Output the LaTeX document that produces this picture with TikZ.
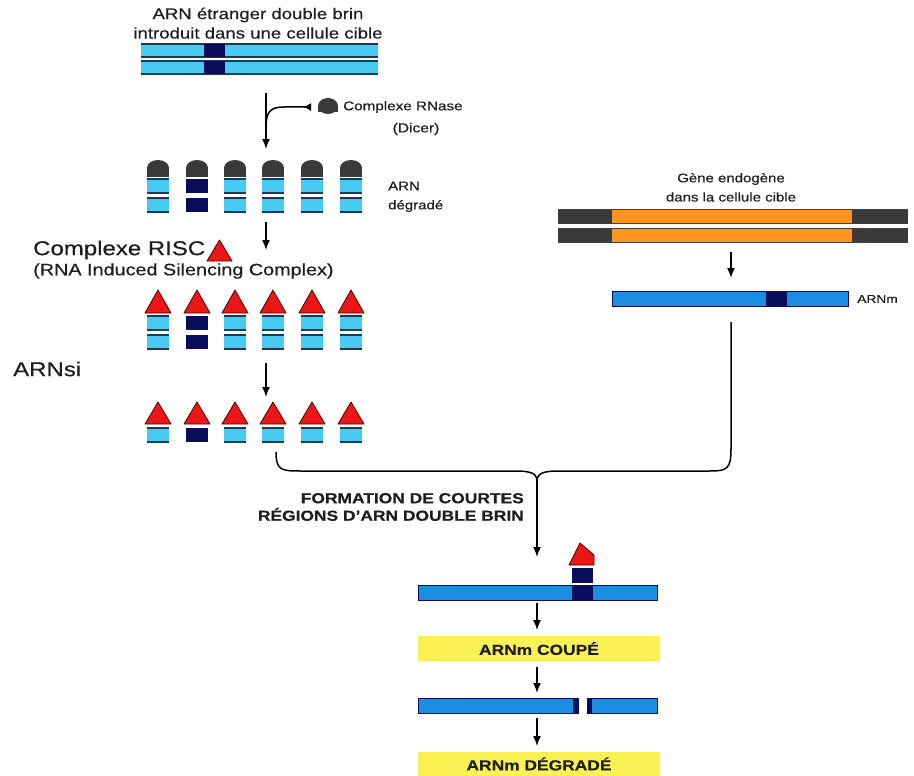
\documentclass[tikz,border=0pt]{standalone}
\usepackage{fontspec}
\setmainfont{Liberation Sans}[FakeStretch=1.2, FakeBold=0.4]
\usetikzlibrary{arrows.meta}
\definecolor{ltblue}{RGB}{72,202,242}
\definecolor{mdblue}{RGB}{28,142,226}
\definecolor{navyc}{RGB}{12,12,92}
\definecolor{edgec}{RGB}{28,58,84}
\definecolor{dgray}{RGB}{58,58,58}
\definecolor{orng}{RGB}{255,148,32}
\definecolor{rred}{RGB}{236,22,22}
\definecolor{yel}{RGB}{250,242,84}
\definecolor{txtc}{RGB}{30,30,30}
\newcommand\fs[1]{\fontsize{#1}{#1}\selectfont}
\newcommand\lbbox[4]{\fill[ltblue] (#1,#2) rectangle (#3,#4);
  \draw[edgeln] (#1,#2) -- (#3,#2) (#1,#4) -- (#3,#4);}
\newcommand\nvbox[4]{\fill[navyc] (#1,#2) rectangle (#3,#4);}
\newcommand\riscsym[3]{\filldraw[riscst] (#1-13,#3) -- (#1,#2) -- (#1+13,#3) -- cycle;}
\newcommand\domesym[1]{\fill[dgray] (#1,168) ellipse [x radius=11, y radius=8];
  \fill[dgray] (#1-11,168) rectangle (#1+11,177);}
\begin{document}
\begin{tikzpicture}[x=1pt,y=-1pt,
  arr/.style={-{Latex[length=10pt,width=8pt]}, line width=1.5pt, draw=black},
  conn/.style={line width=1.5pt, draw=black},
  edgeln/.style={draw=edgec, line width=1.2pt},
  riscst/.style={fill=rred, draw=black!70!red, line width=0.8pt, line join=round},
  txt/.style={inner sep=0pt, text=txtc},
  mstrand/.style={fill=mdblue, draw=navyc, line width=0.8pt},
  ybox/.style={fill=yel, draw=none, minimum width=242pt, minimum height=25pt, inner sep=0pt, text=txtc}]
\useasboundingbox (0,0) rectangle (914,776);
\fill[white] (0,0) rectangle (914,776);

% ---- top: foreign double-stranded RNA
\node[txt, font=\fs{15.5}] (t1) at (258,15) {ARN étranger double brin};
\node[txt, font=\fs{15.5}] (t2) at (258,33) {introduit dans une cellule cible};
\lbbox{141}{44}{378}{57}
\lbbox{141}{61}{378}{74}
\nvbox{204}{44}{225}{57}
\nvbox{204}{61}{225}{74}

% ---- Dicer
\coordinate (a1s) at (266,93);
\coordinate (a1e) at (266,149);
\coordinate (a1j) at (266,128);
\coordinate (dic) at (311,107);
\draw[arr] (a1s) -- (a1e);
\draw[conn, -{Latex[reversed,length=8pt,width=8pt]}] (a1j) .. controls (266,112) and (270,107) .. (284,107) -- (dic);
\fill[dgray] (328,106) ellipse [x radius=10, y radius=8];
\fill[dgray] (318,106) rectangle (338,112);
\node[txt, font=\fs{12.7}, anchor=west] (rnase) at (343,107) {Complexe RNase};
\node[txt, font=\fs{13}] (dicer) at (416,129) {(Dicer)};

% ---- degraded RNA row
\foreach \cx [count=\i] in {158,197,235,273,312,351} {
  \domesym{\cx}
  \ifnum\i=2
    \nvbox{\cx-11}{179}{\cx+11}{193}
    \nvbox{\cx-11}{198}{\cx+11}{212}
  \else
    \lbbox{\cx-11}{179}{\cx+11}{193}
    \lbbox{\cx-11}{198}{\cx+11}{212}
  \fi
}
\node[txt, font=\fs{12.5}, anchor=west] (arnd1) at (388,186) {ARN};
\node[txt, font=\fs{12.5}, anchor=west] (arnd2) at (388,206) {dégradé};

\coordinate (a2s) at (266,222);
\coordinate (a2e) at (266,250);
\draw[arr] (a2s) -- (a2e);

% ---- RISC
\node[txt, font=\fs{20}, anchor=west] (risc) at (33,250) {Complexe RISC};
\filldraw[riscst] (207,261) -- (219.5,240) -- (232,261) -- cycle;
\node[txt, font=\fs{16.5}, anchor=west] (riscl) at (33,271) {(RNA Induced Silencing Complex)};

\foreach \cx [count=\i] in {158,197,235,273,312,351} {
  \riscsym{\cx}{290}{313}
  \ifnum\i=2
    \nvbox{\cx-11}{316}{\cx+11}{330}
    \nvbox{\cx-11}{335}{\cx+11}{349}
  \else
    \lbbox{\cx-11}{316}{\cx+11}{330}
    \lbbox{\cx-11}{335}{\cx+11}{349}
  \fi
}
\node[txt, font=\fs{20}, anchor=west] (arnsi) at (13,369) {ARNsi};
\coordinate (a3s) at (266,363);
\coordinate (a3e) at (266,397);
\draw[arr] (a3s) -- (a3e);

\foreach \cx [count=\i] in {158,197,235,273,312,351} {
  \riscsym{\cx}{402}{424}
  \ifnum\i=2
    \nvbox{\cx-11}{428}{\cx+11}{442}
  \else
    \lbbox{\cx-11}{428}{\cx+11}{442}
  \fi
}

% ---- endogenous gene
\node[txt, font=\fs{12.5}] (g1) at (731,179) {Gène endogène};
\node[txt, font=\fs{12.5}] (g2) at (731,197) {dans la cellule cible};
\foreach \ya/\yb in {209/223, 228/242} {
  \fill[dgray] (558,\ya) rectangle (908,\yb);
  \fill[orng] (612,\ya) rectangle (852,\yb);
  \draw[draw=black!75, line width=0.7pt] (558,\ya) -- (908,\ya) (558,\yb) -- (908,\yb);
}
\coordinate (a4s) at (731,252);
\coordinate (a4e) at (731,278);
\draw[arr] (a4s) -- (a4e);
\draw[mstrand] (612,291) rectangle (848,306);
\fill[navyc] (766,291.4) rectangle (787,305.6);
\node[txt, font=\fs{11.5}, anchor=west] (arnm) at (857,299) {ARNm};

% ---- converging connector
\coordinate (L0) at (276,452);
\coordinate (R0) at (731,322);
\coordinate (cusp) at (537,482);
\coordinate (tip) at (537,557);
\draw[conn] (L0) .. controls (276,470) and (281,471) .. (300,471) -- (515,471) .. controls (533,471) and (537,474) .. (cusp);
\draw[conn] (R0) -- (731,449) .. controls (731,469) and (727,471) .. (710,471) -- (559,471) .. controls (541,471) and (537,474) .. (cusp);
\draw[arr] (cusp) -- (tip);
\node[txt, font=\fs{14.5}\bfseries, align=right, anchor=east] (form) at (524,507) {FORMATION DE COURTES\\[3pt]RÉGIONS D’ARN DOUBLE BRIN};

% ---- mRNA with RISC
\draw[mstrand] (418,585) rectangle (657,600);
\fill[navyc] (572,585.4) rectangle (593,599.6);
\fill[navyc] (572,568) rectangle (593,583);
\filldraw[riscst] (569,565) -- (580,543) -- (594,555) -- (594,565) -- cycle;

\coordinate (b1s) at (537,603);
\coordinate (b1e) at (537,630);
\draw[arr] (b1s) -- (b1e);
\node[ybox, font=\fs{14.5}\bfseries] (coupe) at (539,648.5) {ARNm COUPÉ};
\coordinate (b2s) at (537,667);
\coordinate (b2e) at (537,693);
\draw[arr] (b2s) -- (b2e);
\draw[mstrand] (418,698) rectangle (578,713);
\draw[mstrand] (587,698) rectangle (657,713);
\fill[navyc] (573,698.4) rectangle (577.6,712.6);
\fill[navyc] (587.4,698.4) rectangle (592,712.6);
\coordinate (b3s) at (537,718);
\coordinate (b3e) at (537,746);
\draw[arr] (b3s) -- (b3e);
\node[ybox, font=\fs{14.5}\bfseries] (degr) at (539,764) {ARNm DÉGRADÉ};
\end{tikzpicture}
\end{document}
